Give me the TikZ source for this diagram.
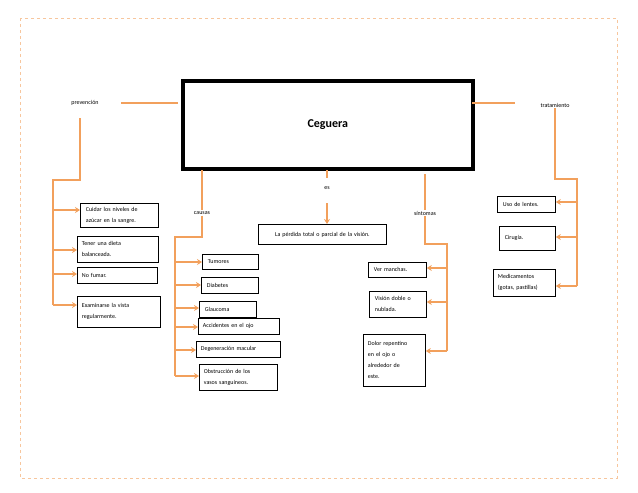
\documentclass[tikz,border=0pt]{standalone}
\usepackage{fontspec}
\setmainfont{Carlito}
\usetikzlibrary{arrows.meta}
\definecolor{org}{RGB}{242,160,92}
\begin{document}
\begin{tikzpicture}[x=1pt,y=-1pt,
 ln/.style={draw=org,line width=1.6pt},
 ar/.style={ln,-{Stealth[length=5pt,width=6pt]}},
 bx/.style 2 args={draw=black,line width=0.8pt,anchor=north west,align=left,text width=#1pt-9pt,inner xsep=4.5pt,inner ysep=1pt,minimum height=#2pt,font=\fontsize{6}{11}\selectfont},
 lb/.style={font=\fontsize{6}{7}\selectfont,inner sep=1pt}]
\useasboundingbox (0,0) rectangle (638,493);
\draw[org!60,dashed,line width=0.5pt] (20,18) rectangle (617,478);
\node[draw=black,line width=3.5pt,minimum width=290pt,minimum height=88pt,anchor=north west,font=\bfseries\fontsize{12}{14}\selectfont] (main) at (181,79) {Ceguera};
% prevencion
\node[lb] (prev) at (85,103) {prevención};
\coordinate (pm) at (178,103);
\draw[ln] (121,103) -- (pm);
\draw[ln] (80,118) -- (80,180) -- (53,180) -- (53,305);
\node[bx={78}{24}] (p1) at (80,203) {\hspace*{1pt}Cuidar los niveles de\\\hspace*{1pt}azúcar en la sangre.};
\node[bx={81}{26}] (p2) at (77,236) {Tener una dieta\\balanceada.};
\node[bx={80}{16}] (p3) at (77,267) {No fumar.};
\node[bx={83}{31}] (p4) at (77,296) {Examinarse la vista\\regularmente.};
\foreach \y/\n in {210/p1,250/p2,274/p3,305/p4} \draw[ar] (53,\y) -- (\n.west|-0,\y);
% causas
\node[lb] (cau) at (202,213) {causas};
\draw[ln] (202,170) -- (cau.north);
\draw[ln] (cau.south) -- (202,237) -- (175,237) -- (175,376);
\node[bx={56}{15}] (c1) at (202,254) {\hspace*{1pt}Tumores};
\node[bx={57}{16}] (c2) at (201,277) {\hspace*{1pt}Diabetes};
\node[bx={57}{16}] (c3) at (199,301) {\hspace*{1pt}Glaucoma};
\node[bx={81}{16}] (c4) at (198,318) {Accidentes en el ojo};
\node[bx={84}{16}] (c5) at (196,341) {Degeneración macular};
\node[bx={78}{26}] (c6) at (199,364) {Obstrucción de los\\vasos sanguíneos.};
\foreach \y/\n in {262/c1,285/c2,308/c3,327/c4,350/c5,376/c6} \draw[ar] (175,\y) -- (\n.west|-0,\y);
% es
\node[lb] (es) at (327,188) {es};
\node[bx={128}{20},align=center] (def) at (258,224) {La pérdida total o parcial de la visión.};
\draw[ln] (327,170) -- (327,178);
\draw[ar] (327,203) -- (def.north-|327,0);
% sintomas
\node[lb] (sin) at (425,213) {síntomas};
\draw[ln] (425,174) -- (sin.north);
\draw[ln] (sin.south) -- (425,244) -- (447,244) -- (447,351);
\node[bx={58}{15}] (s1) at (368,262) {\hspace*{1pt}Ver manchas.};
\node[bx={57}{26}] (s2) at (369,291) {\hspace*{1pt}Visión doble o\\\hspace*{1pt}nublada.};
\node[bx={62}{52}] (s3) at (363,334) {Dolor repentino\\en el ojo o\\alrededor de\\este.};
\foreach \y/\n in {268/s1,302/s2,351/s3} \draw[ar] (447,\y) -- (\n.east|-0,\y);
% tratamiento
\node[lb] (tra) at (555,105) {tratamiento};
\coordinate (tm) at (472,103);
\draw[ln] (tm) -- (515,103);
\draw[ln] (555,108) -- (555,179) -- (577,179) -- (577,286);
\node[bx={58}{16}] (t1) at (497,196) {\hspace*{1pt}Uso de lentes.};
\node[bx={56}{24}] (t2) at (499,226) {\hspace*{1pt}Cirugía.};
\node[bx={62}{27}] (t3) at (493,269) {Medicamentos\\(gotas, pastillas)};
\foreach \y/\n in {202/t1,237/t2,286/t3} \draw[ar] (577,\y) -- (\n.east|-0,\y);
\end{tikzpicture}
\end{document}
